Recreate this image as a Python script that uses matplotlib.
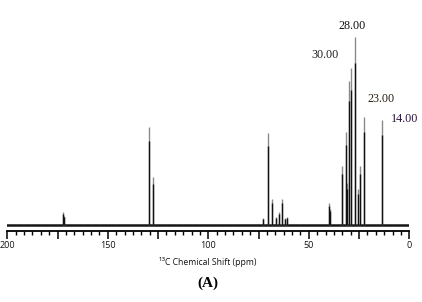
import matplotlib
matplotlib.use("Agg")
import matplotlib.pyplot as plt
from matplotlib.ticker import MultipleLocator

# Peak list (ppm, relative intensity)
shifts = [172.3, 171.8, 129.4, 127.7, 72.6, 70.1, 68.5, 66.3, 64.8, 63.2,
          61.8, 60.8, 40.0, 39.6, 33.6, 31.6, 30.9, 29.9, 29.2, 26.9,
          25.4, 24.6, 22.4, 13.7]
heights = [13, 9, 98, 48, 7, 92, 26, 8, 13, 26,
           7, 8, 22, 16, 59, 93, 42, 144, 157, 188,
           36, 59, 108, 105]

label_texts = ["30.00", "28.00", "23.00", "14.00"]
label_ppm = [41.9, 28.7, 14.1, 2.6]
label_int = [170, 199, 126, 106]
label_colors = ["#222222", "#111111", "#2a1f10", "#2a1438"]

fig = plt.figure(figsize=(4.22, 3.02), dpi=100)
ax = fig.add_axes([7.3/422, 1 - 231/302, 402/422, 201/302])
ax.set_xlim(200, 0)
ax.set_ylim(-6, 195)

# baseline
ax.axhline(0, color="#151515", lw=1.8, zorder=2)
# peaks: gray full height, black lower part
ax.vlines(shifts, 0, heights, colors="#8a8a8a", lw=1.0, zorder=3)
ax.vlines(shifts, 0, [h * 0.86 for h in heights], colors="#111111", lw=1.0, zorder=4)

for t, xp, yp, c in zip(label_texts, label_ppm, label_int, label_colors):
    ax.text(xp, yp, t, ha="center", va="center", fontsize=8.7,
            family="Liberation Serif", color=c)

for s in ["left", "right", "top"]:
    ax.spines[s].set_visible(False)
ax.spines["bottom"].set_linewidth(1.3)
ax.spines["bottom"].set_position(("data", -6))
ax.set_yticks([])
ax.xaxis.set_major_locator(MultipleLocator(25))
ax.xaxis.set_minor_locator(MultipleLocator(25/6))
ax.tick_params(axis="x", which="major", length=5.5, width=1.1, direction="out",
               labelsize=6.5, pad=1.5)
ax.tick_params(axis="x", which="minor", length=3, width=1.0, direction="out")
ax.set_xticks([200, 175, 150, 125, 100, 75, 50, 25, 0])
ax.set_xticklabels(["200", "", "150", "", "100", "", "50", "", "0"],
                   family="Open Sans", color="#111111")

fig.text(208/422, 1 - 262/302, "¹³C Chemical Shift (ppm)", ha="center",
         va="center", fontsize=6.2, family=["Open Sans", "DejaVu Sans"],
         color="#111111")
fig.text(208/422, 1 - 283/302, "(A)", ha="center", va="center", fontsize=11,
         family="Liberation Serif", weight="bold")

fig.savefig("out.png", dpi=100)
